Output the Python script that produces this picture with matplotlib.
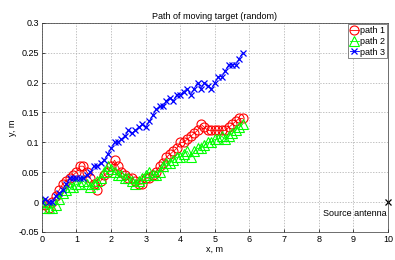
import matplotlib
matplotlib.use("Agg")
import matplotlib.pyplot as plt
import numpy as np

plt.rcParams['font.family'] = ['Liberation Sans', 'DejaVu Sans']

x_vals = [round(0.1 * i, 1) for i in range(59)]

path1 = [0, -0.005, -0.01, 0, 0.01, 0.02, 0.03, 0.035, 0.04, 0.045,
         0.05, 0.06, 0.06, 0.05, 0.04, 0.03, 0.02, 0.035, 0.045, 0.05,
         0.06, 0.07, 0.06, 0.05, 0.045, 0.04, 0.04, 0.035, 0.03, 0.03,
         0.04, 0.04, 0.045, 0.05, 0.06, 0.065, 0.075, 0.08, 0.085, 0.09,
         0.1, 0.1, 0.105, 0.11, 0.115, 0.12, 0.13, 0.125, 0.12, 0.12,
         0.12, 0.12, 0.12, 0.12, 0.125, 0.13, 0.135, 0.14, 0.14]

path2 = [0, -0.01, -0.01, -0.01, -0.005, 0.005, 0.015, 0.02, 0.025, 0.025,
         0.03, 0.03, 0.035, 0.03, 0.025, 0.03, 0.035, 0.04, 0.05, 0.06,
         0.055, 0.05, 0.045, 0.045, 0.04, 0.04, 0.035, 0.03, 0.035, 0.04,
         0.045, 0.05, 0.045, 0.045, 0.05, 0.06, 0.065, 0.065, 0.07, 0.075,
         0.075, 0.08, 0.085, 0.075, 0.085, 0.09, 0.09, 0.095, 0.1, 0.1,
         0.105, 0.105, 0.11, 0.105, 0.11, 0.115, 0.12, 0.125, 0.13]

path3 = [0, 0.005, 0, 0, 0.01, 0.015, 0.02, 0.03, 0.04, 0.04,
         0.04, 0.04, 0.04, 0.045, 0.05, 0.06, 0.06, 0.065, 0.07, 0.08,
         0.09, 0.1, 0.1, 0.105, 0.11, 0.12, 0.115, 0.12, 0.125, 0.13,
         0.125, 0.135, 0.145, 0.155, 0.16, 0.16, 0.17, 0.175, 0.17, 0.18,
         0.18, 0.185, 0.19, 0.18, 0.19, 0.2, 0.19, 0.2, 0.195, 0.19,
         0.2, 0.21, 0.21, 0.22, 0.23, 0.23, 0.23, 0.24, 0.25]

labels = ["path 1", "path 2", "path 3"]
source_xy = (10, 0)
source_label = "Source antenna"

x_ticks = list(range(0, 11))
y_ticks = [-0.05, 0, 0.05, 0.1, 0.15, 0.2, 0.25, 0.3]
y_ticklabels = ["-0.05", "0", "0.05", "0.1", "0.15", "0.2", "0.25", "0.3"]

fig = plt.figure(figsize=(3.95, 2.6), dpi=100)
ax = fig.add_axes([0.106, 0.108, 0.876, 0.804])

ax.plot(x_vals, path1, '-o', color='red', lw=0.6, ms=6.5, mfc='none', mew=0.8, label=labels[0])
ax.plot(x_vals, path2, '-^', color='#00ff00', lw=0.6, ms=6.5, mfc='none', mew=0.8, label=labels[1])
ax.plot(x_vals, path3, '-x', color='blue', lw=0.6, ms=4.5, mew=0.9, label=labels[2])

ax.plot([source_xy[0]], [source_xy[1]], 'x', color='black', ms=4.5, mew=0.9, clip_on=False)
ax.text(source_xy[0] - 0.05, source_xy[1] - 0.012, source_label, ha='right', va='top', fontsize=6.5)

ax.set_xlim(0, 10)
ax.set_ylim(-0.05, 0.3)
ax.set_xticks(x_ticks)
ax.set_yticks(y_ticks)
ax.set_yticklabels(y_ticklabels)
ax.tick_params(direction='in', labelsize=6.5, length=2, width=0.5, pad=2)
ax.grid(True, linestyle=(0, (2, 2)), color='#aaaaaa', linewidth=0.5)
for s in ax.spines.values():
    s.set_linewidth(0.5)
    s.set_color('#333333')

ax.set_title("Path of moving target (random)", fontsize=6.5, pad=3)
ax.set_xlabel("x, m", fontsize=6.5, labelpad=1)
ax.set_ylabel("y, m", fontsize=6.5, labelpad=1)

leg = ax.legend(loc='upper right', fontsize=6.5, handlelength=1.0, handletextpad=0.1,
                borderpad=0.2, labelspacing=0.2, borderaxespad=0.15, fancybox=False,
                framealpha=1, edgecolor='#555555')
leg.get_frame().set_linewidth(0.5)

fig.savefig("out.png", dpi=100)
